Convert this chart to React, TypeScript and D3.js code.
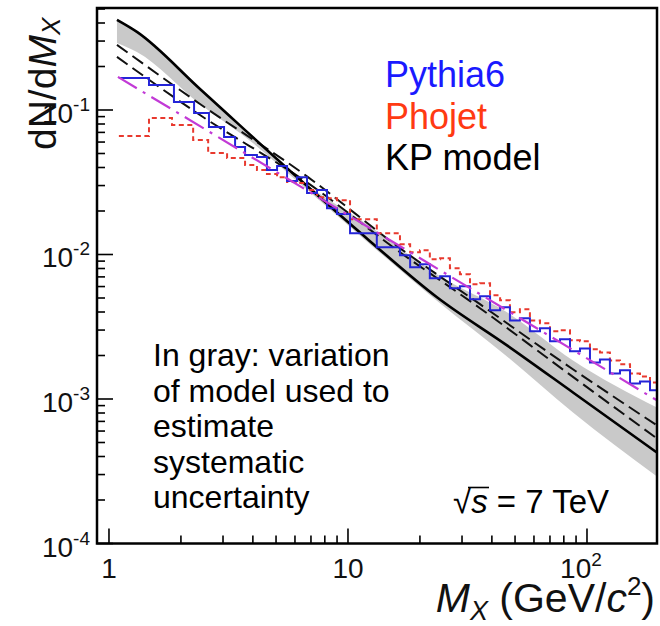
import React from 'react';
import * as d3 from 'd3';

// ---------- axes ----------
const xDomain: [number, number] = [0.891, 196.3];
const yDomain: [number, number] = [1e-4, 0.508];
const xMajorTicks = [1, 10, 100];
const xMajorLabels = [['1', ''], ['10', ''], ['10', '2']];
const yMajorTicks = [1e-1, 1e-2, 1e-3, 1e-4];
const yMajorExponents = ['-1', '-2', '-3', '-4'];

// ---------- Pythia6 histogram (blue) ----------
const pythiaEdges = [1.10, 1.47, 1.87, 2.27, 2.62, 3.03, 3.37, 3.71, 4.16, 4.58, 5.05, 5.56, 6.12, 6.74, 7.42, 8.17, 9.0, 10.2, 13.2, 16.5,
  18.2, 20.0, 22.0, 24.3, 26.7, 29.4, 32.4, 35.7, 39.3, 43.3, 47.6, 52.4, 57.7, 63.6, 70.0, 77.1, 84.9, 93.5, 102.9, 113.3, 124.7, 137.4, 151.4, 166.6, 183.5, 196.3];
const pythiaValues = [0.1666, 0.1491, 0.1136, 0.0953, 0.0762, 0.0650, 0.0554, 0.0488,
  0.0472, 0.0384, 0.0409, 0.0322, 0.0343, 0.0266, 0.0279, 0.02093, 0.01903,
  0.01405, 0.01123,
  0.00989, 0.00817, 0.00857, 0.00685, 0.00707, 0.00584, 0.00603, 0.0049, 0.00514, 0.00411, 0.00431, 0.0035, 0.00362,
  0.00294, 0.00309, 0.00251, 0.00259, 0.00214, 0.00224, 0.00179, 0.00188, 0.0015, 0.00158, 0.00128, 0.00132, 0.00115];

// ---------- Phojet histogram (red) ----------
const phojetEdges = [1.10, 1.47, 1.835, 2.25, 2.60, 3.12, 3.71, 4.16, 4.58, 5.05, 5.56, 6.12, 6.74, 7.42, 8.17, 9.0, 10.2, 13.2, 16.5,
  18.2, 20.0, 22.0, 24.3, 26.7, 29.4, 32.4, 35.7, 39.3, 43.3, 47.6, 52.4, 57.7, 63.6, 70.0, 77.1, 84.9, 93.5, 102.9, 113.3, 124.7, 137.4, 151.4, 166.6, 183.5, 196.3];
const phojetValues = [0.0660, 0.0880, 0.0787, 0.0620, 0.0504, 0.0465, 0.0416,
  0.0384, 0.0360, 0.0343, 0.0317, 0.0312, 0.0279, 0.02494, 0.02455, 0.02378,
  0.01756, 0.01405,
  0.01179, 0.01037, 0.01071, 0.00928, 0.00943, 0.00804, 0.0073, 0.00622, 0.00632, 0.00522, 0.00482, 0.00398, 0.00418,
  0.0035, 0.00334, 0.00294, 0.00299, 0.00255, 0.00251, 0.00221, 0.0021, 0.00185, 0.00174, 0.0015, 0.00143, 0.0013];

// ---------- KP model ----------
const kpM = [1.08, 1.309, 2.403, 6.118, 12.36, 23.57, 46.27, 87.4, 196.3];
const kpValues = [0.4204, 0.3471, 0.1398, 0.03434, 0.01237, 0.00506, 0.00235, 0.00111, 0.000426];

const kpVarM = [1.08, 2.403, 6.802, 16.50, 35.67, 77.1, 196.3];
const kpVarA = [0.2821, 0.1100, 0.03434, 0.01106, 0.00453, 0.00185, 0.000656];
const kpVarB = [0.2330, 0.0923, 0.0312, 0.01037, 0.00425, 0.001656, 0.000533];

const bandM = [1.08, 1.309, 2.403, 4.0, 6.118, 12.36, 24.26, 46.27, 87.4, 196.3];
const bandHi = [0.4204, 0.3471, 0.1398, 0.0650, 0.03434, 0.01571, 0.00707, 0.00398, 0.00185, 0.000874];
const bandLo = [0.2912, 0.2523, 0.1100, 0.0591, 0.0322, 0.01179, 0.0046, 0.00197, 0.000807, 0.000291];

// ---------- Pythia fit (magenta) ----------
const fitM = [1.09, 196.3];
const fitValues = [0.1694, 0.000978];

const legendLabels = ['Pythia6', 'Phojet', 'KP model'];
const noteLines = ['In gray: variation', 'of model used to', 'estimate', 'systematic', 'uncertainty'];

const FONT = "'Liberation Sans', Arial, Helvetica, sans-serif";

export default function App() {
  const L = 97, R = 657, T = 8, B = 543.5;
  const x = d3.scaleLog().domain(xDomain).range([L, R]);
  const y = d3.scaleLog().domain(yDomain).range([B, T]);

  const xMinor: number[] = [];
  [1, 10, 100].forEach(d => { for (let k = 2; k <= 9; k++) { const v = d * k; if (v < xDomain[1]) xMinor.push(v); } });
  const yMinor: number[] = [];
  [1e-4, 1e-3, 1e-2, 1e-1].forEach(d => { for (let k = 2; k <= 9; k++) { const v = d * k; if (v <= yDomain[1]) yMinor.push(v); } });

  const stepPath = (edges: number[], vals: number[]) => {
    const pts: [number, number][] = vals.map((v, i) => [edges[i], v]);
    pts.push([edges[edges.length - 1], vals[vals.length - 1]]);
    return d3.line<[number, number]>().x(d => x(d[0])).y(d => y(d[1])).curve(d3.curveStepAfter)(pts) || '';
  };
  const smooth = (ms: number[], vs: number[]) =>
    d3.line<number>().x((_, i) => x(ms[i])).y(d => y(d)).curve(d3.curveMonotoneX)(vs) || '';
  const band = d3.area<number>()
    .x((_, i) => x(bandM[i]))
    .y0((_, i) => y(bandLo[i]))
    .y1((_, i) => y(bandHi[i]))
    .curve(d3.curveMonotoneX)(bandM) || '';

  const legendColors = ['#1a1aff', '#ff3a12', '#000000'];

  return (
    <svg width={660} height={626} style={{ position: 'absolute', left: 0, top: 0, background: '#fff' }} fontFamily={FONT}>
      <rect x={0} y={0} width={660} height={626} fill="#fff" />
      <defs>
        <clipPath id="plot"><rect x={L} y={T} width={R - L} height={B - T} /></clipPath>
      </defs>
      <g clipPath="url(#plot)">
        <path d={band} fill="#c9c9c9" stroke="none" />
        <path d={smooth(kpVarM, kpVarA)} fill="none" stroke="#111" strokeWidth={2} strokeDasharray="13,6" />
        <path d={smooth(kpVarM, kpVarB)} fill="none" stroke="#111" strokeWidth={2} strokeDasharray="13,6" />
        <path d={smooth(kpM, kpValues)} fill="none" stroke="#000" strokeWidth={2.6} />
        <path d={stepPath(phojetEdges, phojetValues)} fill="none" stroke="#e8392e" strokeWidth={2} strokeDasharray="5,3.5" />
        <path d={stepPath(pythiaEdges, pythiaValues)} fill="none" stroke="#2424d8" strokeWidth={2} />
        <path d={smooth(fitM, fitValues)} fill="none" stroke="#c23ad6" strokeWidth={2.2} strokeDasharray="22,7,3,7" />
      </g>

      {/* ticks */}
      <g stroke="#000" strokeWidth={1.6}>
        {xMajorTicks.map(t => <line key={'xM' + t} x1={x(t)} x2={x(t)} y1={B} y2={B - 15} />)}
        {xMinor.map(t => <line key={'xm' + t} x1={x(t)} x2={x(t)} y1={B} y2={B - 8} />)}
        {yMajorTicks.map(t => <line key={'yM' + t} x1={L} x2={L + 16} y1={y(t)} y2={y(t)} />)}
        {yMinor.map(t => <line key={'ym' + t} x1={L} x2={L + 8} y1={y(t)} y2={y(t)} />)}
      </g>
      <rect x={L} y={T} width={R - L} height={B - T} fill="none" stroke="#000" strokeWidth={2.5} />

      {/* tick labels */}
      {xMajorTicks.map((t, i) => (
        <text key={'xl' + t} x={x(t) + (xMajorLabels[i][1] ? -6 : 0)} y={578} fontSize={28} textAnchor="middle" fill="#111">
          {xMajorLabels[i][0]}
          {xMajorLabels[i][1] ? <tspan fontSize={19} dy={-12}>{xMajorLabels[i][1]}</tspan> : null}
        </text>
      ))}
      {yMajorTicks.map((t, i) => (
        <text key={'yl' + t} x={90} y={y(t) + 13} fontSize={28} textAnchor="end" fill="#111">
          10<tspan fontSize={19} dy={-12}>{yMajorExponents[i]}</tspan>
        </text>
      ))}

      {/* axis titles */}
      <text x={655} y={612} fontSize={41} textAnchor="end" fill="#111">
        <tspan fontStyle="italic">M</tspan>
        <tspan fontStyle="italic" fontSize={27} dy={8}>X</tspan>
        <tspan dy={-8}> (GeV/</tspan>
        <tspan fontStyle="italic">c</tspan>
        <tspan fontSize={26} dy={-17}>2</tspan>
        <tspan dy={17}>)</tspan>
      </text>
      <text transform="translate(56,150) rotate(-90)" fontSize={39} fill="#111">
        dN/d<tspan fontStyle="italic">M</tspan>
        <tspan fontStyle="italic" fontSize={26} dy={4}>X</tspan>
      </text>

      {/* legend */}
      {legendLabels.map((s, i) => (
        <text key={s} x={385} y={87 + i * 41.5} fontSize={36} fill={legendColors[i]}>{s}</text>
      ))}

      {/* note */}
      {noteLines.map((s, i) => (
        <text key={s} x={153} y={366 + i * 35.5} fontSize={32} fill="#000">{s}</text>
      ))}

      {/* sqrt s */}
      <text x={453} y={513} fontSize={33} fill="#000">
        √<tspan fontStyle="italic">s</tspan> = 7 TeV
      </text>
      <line x1={468} x2={489} y1={487.5} y2={487.5} stroke="#000" strokeWidth={1.6} />
    </svg>
  );
}
